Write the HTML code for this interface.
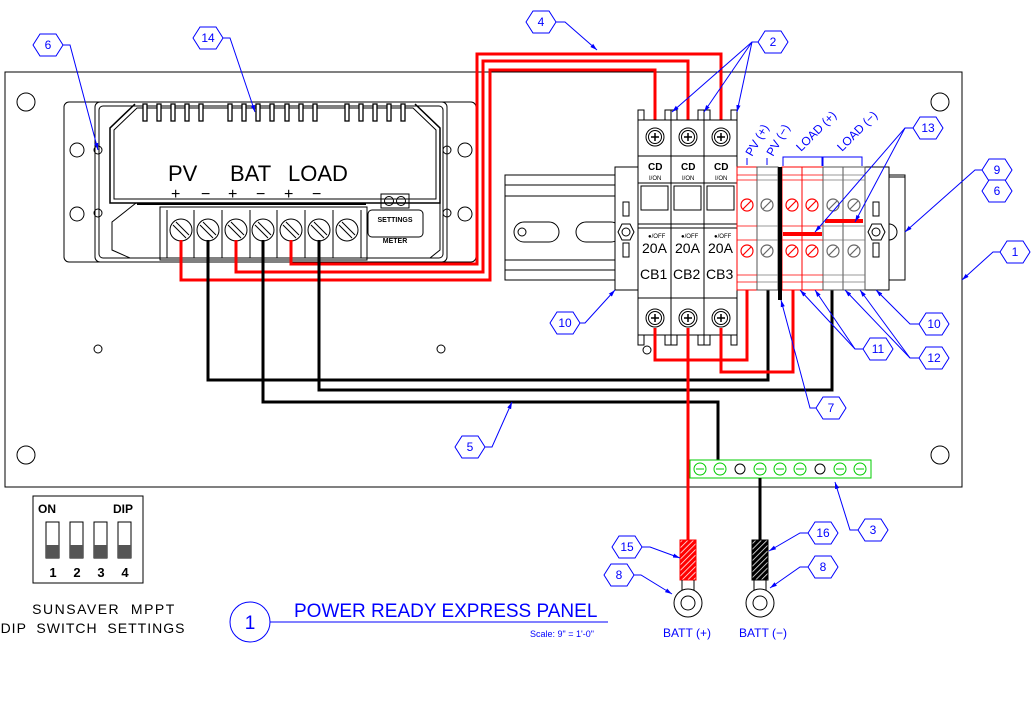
<!DOCTYPE html>
<html><head><meta charset="utf-8"><style>
html,body{margin:0;padding:0;background:#fff;width:1032px;height:720px;overflow:hidden}
svg{display:block}
text{font-family:"Liberation Sans",sans-serif}
.b{fill:none;stroke:#000;stroke-width:1}
.bl{stroke:#00f;stroke-width:1;fill:none}
.ht{fill:#00f;font-size:12px;text-anchor:middle}
</style></head><body>
<svg width="1032" height="720" viewBox="0 0 1032 720" xmlns="http://www.w3.org/2000/svg">
<defs>
<polygon id="hx" points="-15,0 -8,-11 8,-11 15,0 8,11 -8,11" fill="#fff" stroke="#00f" stroke-width="1"/>
<marker id="ar" viewBox="0 0 10 10" refX="10" refY="5" markerWidth="7" markerHeight="7" orient="auto-start-reverse"><path d="M0,2 L10,5 L0,8 z" fill="#00f"/></marker>
<g id="scr"><circle r="9" fill="#fff" stroke="#000"/><circle r="6.5" fill="none" stroke="#000"/><path d="M-4,0H4M0,-4V4" stroke="#000" stroke-width="1.5"/></g>
<g id="ctscr"><circle r="11" fill="#fff" stroke="#000"/><path d="M-8,-5L5,8M-5,-8L8,5" stroke="#000" stroke-width="1"/></g>
<pattern id="hatch" width="4" height="4" patternUnits="userSpaceOnUse" patternTransform="rotate(45)"><line x1="0" y1="0" x2="0" y2="4" stroke="#fff" stroke-width="1.5"/></pattern>
</defs>

<rect x="5" y="72" width="957" height="415" class="b" stroke-width="2"/>
<g class="b" stroke-width="1.2">
<circle cx="26" cy="102" r="9"/><circle cx="26" cy="455" r="9"/><circle cx="940" cy="102" r="9"/><circle cx="940" cy="455" r="9"/>
<circle cx="98" cy="349" r="4"/><circle cx="441" cy="349" r="4"/><circle cx="647" cy="350" r="4"/>
</g>

<g class="b">
<rect x="64" y="102" width="412" height="160" rx="5"/>
<rect x="95" y="102" width="352" height="160" rx="5"/>
<rect x="99" y="106" width="344" height="152" rx="4"/>
<circle cx="77" cy="150" r="7"/><circle cx="77" cy="214" r="7"/><circle cx="465" cy="150" r="7"/><circle cx="465" cy="214" r="7"/>
<circle cx="98" cy="150" r="4"/><circle cx="98" cy="213" r="4"/><circle cx="447" cy="150" r="4"/><circle cx="447" cy="213" r="4"/>
<path d="M135,104 L110,128 V203 H440 V128 L415,104" stroke-width="1.5"/>
<path d="M114,130 L137,108 H413 L436,130 V199 H114 Z"/>
<path d="M136,203 L112,222 V250 L130,258 H160 M440,203 V250 L430,258 H368"/>
<rect x="160" y="207" width="207" height="53"/>
<rect x="368" y="210" width="55" height="27" rx="4"/>
</g>
<line x1="137" y1="204" x2="366" y2="204" stroke="#000" stroke-width="2"/>
<g stroke="#000" stroke-width="1.3" fill="#fff">
<rect x="143" y="104" width="4" height="17"/><rect x="157" y="104" width="4" height="17"/><rect x="171" y="104" width="4" height="17"/><rect x="185" y="104" width="4" height="17"/><rect x="199" y="104" width="4" height="17"/>
<rect x="228" y="104" width="4" height="17"/><rect x="242" y="104" width="4" height="17"/><rect x="256" y="104" width="4" height="17"/><rect x="270" y="104" width="4" height="17"/><rect x="285" y="104" width="4" height="17"/><rect x="299" y="104" width="4" height="17"/><rect x="313" y="104" width="4" height="17"/>
<rect x="345" y="104" width="4" height="17"/><rect x="359" y="104" width="4" height="17"/><rect x="373" y="104" width="4" height="17"/><rect x="387" y="104" width="4" height="17"/><rect x="401" y="104" width="4" height="17"/>
</g>
<text x="168" y="181" font-size="22">PV</text><text x="230" y="181" font-size="22">BAT</text><text x="288" y="181" font-size="22">LOAD</text>
<text x="171" y="199" font-size="16">+</text><text x="201" y="199" font-size="16">−</text><text x="228" y="199" font-size="16">+</text><text x="256" y="199" font-size="16">−</text><text x="284" y="199" font-size="16">+</text><text x="312" y="199" font-size="16">−</text>
<g class="b"><line x1="167" y1="210" x2="167" y2="258"/><line x1="194" y1="210" x2="194" y2="258"/><line x1="222" y1="210" x2="222" y2="258"/><line x1="250" y1="210" x2="250" y2="258"/><line x1="277" y1="210" x2="277" y2="258"/><line x1="305" y1="210" x2="305" y2="258"/><line x1="333" y1="210" x2="333" y2="258"/><line x1="361" y1="210" x2="361" y2="258"/></g>
<use href="#ctscr" x="181" y="230"/><use href="#ctscr" x="208" y="230"/><use href="#ctscr" x="236" y="230"/><use href="#ctscr" x="263" y="230"/><use href="#ctscr" x="291" y="230"/><use href="#ctscr" x="319" y="230"/><use href="#ctscr" x="347" y="230"/>
<rect x="381" y="194" width="28" height="14" class="b"/><circle cx="389" cy="201" r="4.5" class="b"/><circle cx="401" cy="201" r="4.5" class="b"/>
<text x="395" y="222" font-size="7" font-weight="bold" text-anchor="middle">SETTINGS</text>
<text x="395" y="243" font-size="7" font-weight="bold" text-anchor="middle">METER</text>

<g fill="none" stroke="#f00" stroke-width="3">
<path d="M181,240 V280 H490 V70 H655 V125"/>
<path d="M236,240 V272 H483 V61 H688 V125"/>
<path d="M291,240 V264 H477 V54 H721 V125"/>
</g>
<g fill="none" stroke="#000" stroke-width="3">
<path d="M208,240 V380 H768 V290"/>
<path d="M263,240 V402 H718 V462"/>
<path d="M319,240 V390 H832 V290"/>
</g>

<g class="b" fill="#fff">
<rect x="505" y="175" width="400" height="105" fill="#fff"/>
<line x1="505" y1="185" x2="905" y2="185"/><line x1="505" y1="196" x2="905" y2="196"/><line x1="505" y1="260" x2="905" y2="260"/><line x1="505" y1="270" x2="905" y2="270"/>
<rect x="514" y="222" width="45" height="20" rx="10"/><circle cx="522" cy="232" r="4"/>
<rect x="576" y="222" width="45" height="20" rx="10"/>
<rect x="615" y="167" width="23" height="123" fill="#fff"/>
<rect x="623" y="202" width="6" height="14"/><rect x="623" y="243" width="6" height="14"/>
<polygon points="618,232 622,224 630,224 634,232 630,240 622,240" fill="#fff"/><circle cx="626" cy="232" r="4"/>
<rect x="865" y="167" width="24" height="123" fill="#fff"/>
<rect x="889" y="177" width="16" height="103" fill="#fff"/>
<rect x="873" y="202" width="6" height="14"/><rect x="873" y="243" width="6" height="14"/>
<polygon points="868,232 872,224 881,224 885,232 881,240 872,240" fill="#fff"/><circle cx="876" cy="232" r="4"/>
<path d="M889,224 A8,8 0 0 1 889,240"/>
</g>

<g class="b" fill="#fff">
<rect x="638" y="120" width="99" height="215" fill="#fff"/>
<line x1="671" y1="110" x2="671" y2="345"/><line x1="704" y1="110" x2="704" y2="345"/>
<path d="M638,120 V110 h6 v10 M665,120 V110 h6 v10 M671,120 V110 h6 v10 M698,120 V110 h6 v10 M704,120 V110 h6 v10 M731,120 V110 h6 v10"/>
<path d="M638,335 V345 h6 v-10 M665,335 V345 h6 v-10 M671,335 V345 h6 v-10 M698,335 V345 h6 v-10 M704,335 V345 h6 v-10 M731,335 V345 h6 v-10"/>
<line x1="638" y1="156" x2="737" y2="156"/><line x1="638" y1="183" x2="737" y2="183"/>
<line x1="638" y1="224" x2="737" y2="224"/><line x1="638" y1="228" x2="737" y2="228"/>
<line x1="638" y1="298" x2="737" y2="298"/>
<rect x="641" y="186" width="27" height="24"/><rect x="674" y="186" width="27" height="24"/><rect x="707" y="186" width="27" height="24"/>
</g>
<use href="#scr" x="655" y="137"/><use href="#scr" x="688" y="137"/><use href="#scr" x="721" y="137"/>
<use href="#scr" x="655" y="318"/><use href="#scr" x="688" y="318"/><use href="#scr" x="721" y="318"/>
<g font-size="10" font-weight="bold"><text x="648" y="170">CD</text><text x="681" y="170">CD</text><text x="714" y="170">CD</text></g>
<g font-size="6"><text x="649" y="180">I/ON</text><text x="682" y="180">I/ON</text><text x="715" y="180">I/ON</text>
<text x="648" y="238">●/OFF</text><text x="681" y="238">●/OFF</text><text x="714" y="238">●/OFF</text></g>
<g font-size="14"><text x="642" y="253">20A</text><text x="675" y="253">20A</text><text x="708" y="253">20A</text>
<text x="640" y="279">CB1</text><text x="673" y="279">CB2</text><text x="706" y="279">CB3</text></g>

<g stroke-width="1">
<rect x="737" y="167" width="20" height="123" fill="#fff" stroke="#f00"/>
<rect x="757" y="167" width="21" height="123" fill="#fff" stroke="#555"/>
<rect x="782" y="167" width="20" height="123" fill="#fff" stroke="#f00"/>
<rect x="802" y="167" width="21" height="123" fill="#fff" stroke="#f00"/>
<rect x="823" y="167" width="20" height="123" fill="#fff" stroke="#555"/>
<rect x="843" y="167" width="22" height="123" fill="#fff" stroke="#555"/>
</g>
<g stroke-width="0.7">
<path d="M737,175H757M737,180H757M737,226H757M737,240H757M737,275H757M737,282H757" stroke="#f00"/>
<path d="M782,175H823M782,180H823M782,226H823M782,240H823M782,275H823M782,282H823" stroke="#f00"/>
<path d="M757,175H778M757,180H778M757,226H778M757,240H778M757,275H778M757,282H778M823,175H865M823,180H865M823,226H865M823,240H865M823,275H865M823,282H865" stroke="#777"/>
</g>
<rect x="778" y="167" width="4" height="133" fill="#000"/>
<g fill="none" stroke-width="1.2">
<circle cx="747" cy="205" r="6" stroke="#f00"/><circle cx="747" cy="251" r="6" stroke="#f00"/>
<circle cx="767" cy="205" r="6" stroke="#666"/><circle cx="767" cy="251" r="6" stroke="#666"/>
<circle cx="792" cy="205" r="6" stroke="#f00"/><circle cx="792" cy="251" r="6" stroke="#f00"/>
<circle cx="812" cy="205" r="6" stroke="#f00"/><circle cx="812" cy="251" r="6" stroke="#f00"/>
<circle cx="833" cy="205" r="6" stroke="#666"/><circle cx="833" cy="251" r="6" stroke="#666"/>
<circle cx="854" cy="205" r="6" stroke="#666"/><circle cx="854" cy="251" r="6" stroke="#666"/>
<path d="M743,209L751,201M743,255L751,247M788,209L796,201M788,255L796,247M808,209L816,201M808,255L816,247" stroke="#f00"/>
<path d="M763,209L771,201M763,255L771,247M829,209L837,201M829,255L837,247M850,209L858,201M850,255L858,247" stroke="#666"/>
</g>
<rect x="783" y="232" width="39" height="4" fill="#f00"/>
<rect x="825" y="219" width="38" height="4" fill="#f00"/>
<g fill="none" stroke="#f00" stroke-width="3">
<path d="M655,328 V360 H747 V290"/>
<path d="M721,328 V372 H793 V290"/>
<path d="M688,328 V545"/>
</g>

<rect x="690" y="460" width="181" height="18" fill="#fff" stroke="#0c0"/>
<g fill="none" stroke="#0c0">
<circle cx="700" cy="469" r="6"/><circle cx="720" cy="469" r="6"/><circle cx="760" cy="469" r="6"/><circle cx="780" cy="469" r="6"/><circle cx="800" cy="469" r="6"/><circle cx="840" cy="469" r="6"/><circle cx="860" cy="469" r="6"/>
<path d="M696,469H704M716,469H724M756,469H764M776,469H784M796,469H804M836,469H844M856,469H864"/>
</g>
<circle cx="740" cy="469" r="5" fill="#fff" stroke="#000"/><circle cx="820" cy="469" r="5" fill="#fff" stroke="#000"/>
<line x1="760" y1="478" x2="760" y2="545" stroke="#000" stroke-width="3"/>

<rect x="680" y="540" width="16" height="40" fill="#f00"/><rect x="680" y="540" width="16" height="40" fill="url(#hatch)" stroke="#f00"/>
<rect x="752" y="540" width="16" height="40" fill="#000"/><rect x="752" y="540" width="16" height="40" fill="url(#hatch)" stroke="#000"/>
<g class="b"><path d="M682,580 V590 M694,580 V590"/><circle cx="688" cy="603" r="14"/><circle cx="688" cy="603" r="7"/>
<path d="M754,580 V590 M766,580 V590"/><circle cx="760" cy="603" r="14"/><circle cx="760" cy="603" r="7"/></g>
<text x="687" y="637" fill="#00f" font-size="12" text-anchor="middle">BATT (+)</text>
<text x="763" y="637" fill="#00f" font-size="12" text-anchor="middle">BATT (−)</text>

<g fill="#00f" font-size="12">
<text transform="translate(752,157) rotate(-60)">PV (+)</text>
<text transform="translate(773,157) rotate(-60)">PV (−)</text>
<text transform="translate(801,152) rotate(-45)">LOAD (+)</text>
<text transform="translate(842,152) rotate(-45)">LOAD (−)</text>
</g>
<g class="bl"><path d="M747,158V165 M767,158V165 M783,166V157H822V166 M823,166V157H862V166"/></g>

<g class="bl" marker-end="url(#ar)">
<path d="M63,45 H70 L98,150"/>
<path d="M223,38 H230 L255,112"/>
<path d="M556,22 H565 L597,50"/>
<path d="M758,42 H752 L672,112"/><path d="M752,42 L704,112"/><path d="M752,42 L737,112"/>
<path d="M913,128 H905 L815,232"/><path d="M905,128 L855,222"/>
<path d="M982,170 H975 L905,232"/>
<path d="M1000,252 H993 L962,280"/>
<path d="M580,323 H585 L615,290"/>
<path d="M919,324 H910 L876,290"/>
<path d="M863,349 H855 L800,290"/><path d="M855,349 L815,290"/>
<path d="M919,358 H910 L845,290"/><path d="M910,358 L860,290"/>
<path d="M816,408 H810 L781,300"/>
<path d="M485,447 H492 L512,402"/>
<path d="M858,530 H850 L835,482"/>
<path d="M642,547 H650 L680,558"/>
<path d="M634,575 H641 L672,594"/>
<path d="M808,533 H800 L769,551"/>
<path d="M808,567 H800 L770,588"/>
</g>
<g>
<use href="#hx" x="48" y="45"/><use href="#hx" x="208" y="38"/><use href="#hx" x="541" y="22"/><use href="#hx" x="773" y="42"/>
<use href="#hx" x="928" y="128"/><use href="#hx" x="997" y="170"/><use href="#hx" x="997" y="191"/><use href="#hx" x="1015" y="252"/>
<use href="#hx" x="565" y="323"/><use href="#hx" x="934" y="324"/><use href="#hx" x="878" y="349"/><use href="#hx" x="934" y="358"/>
<use href="#hx" x="831" y="408"/><use href="#hx" x="470" y="447"/><use href="#hx" x="873" y="530"/>
<use href="#hx" x="627" y="547"/><use href="#hx" x="619" y="575"/><use href="#hx" x="823" y="533"/><use href="#hx" x="823" y="567"/>
</g>
<g class="ht">
<text x="48" y="49">6</text><text x="208" y="42">14</text><text x="541" y="26">4</text><text x="773" y="46">2</text>
<text x="928" y="132">13</text><text x="997" y="174">9</text><text x="997" y="195">6</text><text x="1015" y="256">1</text>
<text x="565" y="327">10</text><text x="934" y="328">10</text><text x="878" y="353">11</text><text x="934" y="362">12</text>
<text x="831" y="412">7</text><text x="470" y="451">5</text><text x="873" y="534">3</text>
<text x="627" y="551">15</text><text x="619" y="579">8</text><text x="823" y="537">16</text><text x="823" y="571">8</text>
</g>

<circle cx="250" cy="622" r="20" fill="none" stroke="#00f"/>
<text x="250" y="629" fill="#00f" font-size="19" text-anchor="middle">1</text>
<line x1="270" y1="622" x2="608" y2="622" stroke="#00f"/>
<text x="294" y="617" fill="#00f" font-size="19">POWER READY EXPRESS PANEL</text>
<text x="530" y="637" fill="#00f" font-size="9">Scale: 9" = 1'-0"</text>

<rect x="33" y="496" width="110" height="87" class="b"/>
<text x="38" y="513" font-size="12" font-weight="bold">ON</text><text x="113" y="513" font-size="12" font-weight="bold">DIP</text>
<g class="b"><rect x="46" y="522" width="13" height="36"/><rect x="70" y="522" width="13" height="36"/><rect x="94" y="522" width="13" height="36"/><rect x="118" y="522" width="13" height="36"/></g>
<g fill="#555"><rect x="46" y="545" width="13" height="13"/><rect x="70" y="545" width="13" height="13"/><rect x="94" y="545" width="13" height="13"/><rect x="118" y="545" width="13" height="13"/></g>
<g font-size="13" font-weight="bold" text-anchor="middle"><text x="53" y="577">1</text><text x="77" y="577">2</text><text x="101" y="577">3</text><text x="125" y="577">4</text></g>
<text x="104" y="614" font-size="14" text-anchor="middle" letter-spacing="1.5" xml:space="preserve">SUNSAVER  MPPT</text>
<text x="93" y="633" font-size="14" text-anchor="middle" letter-spacing="1" xml:space="preserve">DIP  SWITCH  SETTINGS</text>
</svg>
</body></html>
